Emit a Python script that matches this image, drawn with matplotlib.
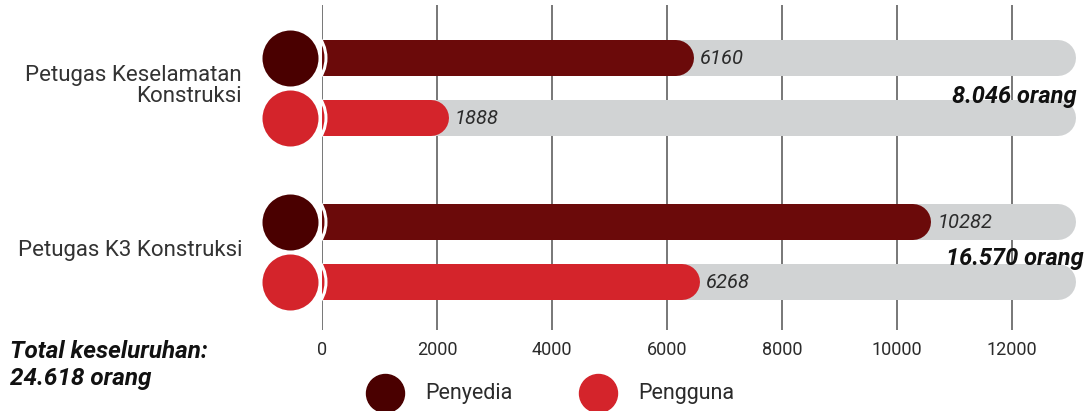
import matplotlib
matplotlib.use("Agg")
import matplotlib.pyplot as plt

# ---- data ----
categories = ["Petugas Keselamatan\nKonstruksi", "Petugas K3 Konstruksi"]
penyedia = [6160, 10282]
pengguna = [1888, 6268]
total_labels = ["8.046 orang", "16.570 orang"]
grand_total_label = "Total keseluruhan:\n24.618 orang"
series_names = ["Penyedia", "Pengguna"]
x_ticks = [0, 2000, 4000, 6000, 8000, 10000, 12000]

# ---- style ----
C_DARK_BAR = "#6b0a0a"
C_DARK_DOT = "#4a0000"
C_RED = "#d4242b"
C_TRACK = "#d1d3d4"
C_TEXT = "#2b2b2b"
FONT = ["Roboto", "DejaVu Sans"]
plt.rcParams["font.family"] = FONT

W, H, DPI = 1091, 411, 100
PX = 72.0 / DPI  # points per pixel

fig = plt.figure(figsize=(W / DPI, H / DPI), dpi=DPI)
ax_left, ax_right = 322, 1091
ax_top, ax_bottom = 5, 330
ax = fig.add_axes([ax_left / W, (H - ax_bottom) / H,
                   (ax_right - ax_left) / W, (ax_bottom - ax_top) / H])
xmax = 13374
ax.set_xlim(0, xmax)
ax.set_ylim(ax_bottom, ax_top)

TRACK_END = 12800
BAR_PX = 36
GROUP_START, GROUP_GAP, ROW_GAP = 58, 164, 60
DOT_X = -557
DOT_D = 56
TOTAL_SHIFT = [0, 7]  # horizontal nudge of the group totals, px

for i, cat in enumerate(categories):
    y1 = GROUP_START + i * GROUP_GAP
    y2 = y1 + ROW_GAP
    for y, val, bar_c, dot_c in ((y1, penyedia[i], C_DARK_BAR, C_DARK_DOT),
                                 (y2, pengguna[i], C_RED, C_RED)):
        ax.plot([0, TRACK_END], [y, y], color=C_TRACK, lw=BAR_PX * PX,
                solid_capstyle="round", zorder=2)
        ax.plot([0, val], [y, y], color=bar_c, lw=BAR_PX * PX,
                solid_capstyle="round", zorder=2.5)
        # white ring and dot marker
        ax.scatter([DOT_X], [y], s=(72 * PX) ** 2, facecolor="none",
                   edgecolor="white", linewidth=3 * PX, zorder=3, clip_on=False)
        ax.scatter([DOT_X], [y], s=(DOT_D * PX) ** 2, color=dot_c,
                   linewidth=0, zorder=4, clip_on=False)
        ax.annotate(f"{val}", xy=(val, y), xytext=(24 * PX, 0),
                    textcoords="offset points", ha="left", va="center",
                    fontsize=14.5, style="italic", color=C_TEXT, zorder=5)
    # group total, between the two bars of the group
    ax.annotate(total_labels[i], xy=(TRACK_END, y2),
                xytext=((19 + TOTAL_SHIFT[i]) * PX, (ROW_GAP / 2 - 8 + 2 * i) * PX),
                textcoords="offset points", ha="right", va="center",
                fontsize=17, style="italic", fontweight="bold", color="#111111",
                zorder=6)
    # category label
    fig.text(242 / W, 1 - ((y1 + y2) / 2 - 2) / H, cat, ha="right", va="center",
             fontsize=16, color="#333333", linespacing=0.98)

# grid
ax.set_xticks(x_ticks)
ax.set_xticklabels([str(t) for t in x_ticks], fontsize=13, color=C_TEXT)
ax.tick_params(axis="x", length=0, pad=8)
ax.set_yticks([])
ax.grid(axis="x", color="#7a7a7a", linewidth=2 * PX, zorder=0)
ax.set_axisbelow(True)
for sp in ax.spines.values():
    sp.set_visible(False)

# grand total
fig.text(10 / W, 1 - 365 / H, grand_total_label, ha="left", va="center",
         fontsize=17.5, style="italic", fontweight="bold", color="#111111",
         linespacing=1.2)

# legend
leg_y = 1 - 393 / H
for x, name, c in ((385, series_names[0], C_DARK_DOT), (598, series_names[1], C_RED)):
    fig.add_artist(plt.Line2D([x / W], [leg_y], marker="o", markersize=38 * PX,
                              color=c, linestyle="none"))
    fig.text((x + 40) / W, leg_y, name, ha="left", va="center", fontsize=15.5,
             color=C_TEXT)

fig.savefig("out.png", dpi=DPI)
